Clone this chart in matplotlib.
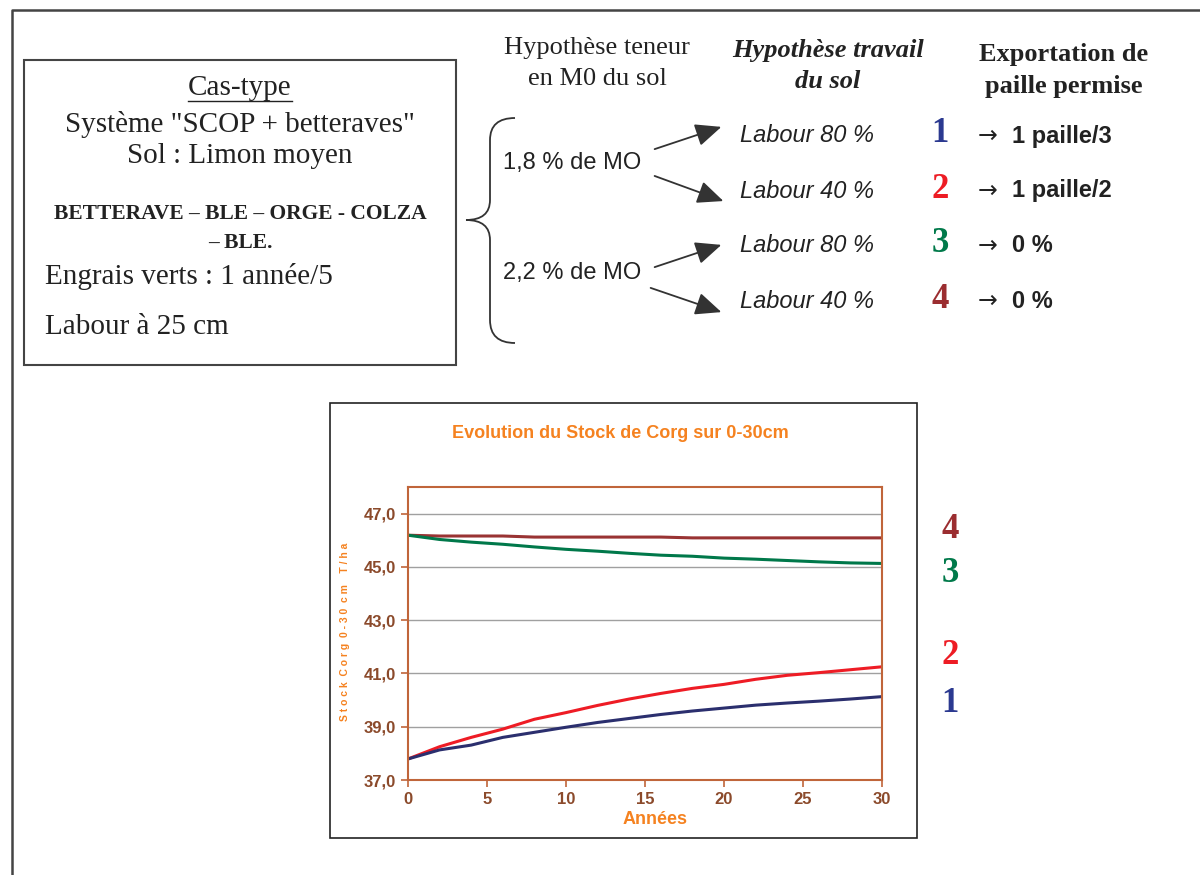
import numpy as np
import matplotlib
matplotlib.use('Agg')
import matplotlib.pyplot as plt
from matplotlib.path import Path
from matplotlib.patches import PathPatch, Rectangle

# ---- donnees du graphique ----
annees = [0, 2, 4, 6, 8, 10, 12, 14, 16, 18, 20, 22, 24, 26, 28, 30]
cas1 = [37.79, 38.13, 38.31, 38.60, 38.79, 38.98, 39.16, 39.31, 39.46, 39.59, 39.70, 39.81, 39.89, 39.96, 40.04, 40.13]
cas2 = [37.79, 38.25, 38.60, 38.91, 39.28, 39.53, 39.80, 40.04, 40.25, 40.44, 40.59, 40.78, 40.93, 41.03, 41.14, 41.25]
cas3 = [46.19, 46.03, 45.93, 45.85, 45.75, 45.66, 45.59, 45.51, 45.44, 45.40, 45.33, 45.29, 45.24, 45.19, 45.15, 45.13]
cas4 = [46.19, 46.16, 46.16, 46.16, 46.12, 46.12, 46.12, 46.12, 46.12, 46.09, 46.09, 46.09, 46.09, 46.09, 46.09, 46.09]
y_ticks = [37, 39, 41, 43, 45, 47]
x_ticks = [0, 5, 10, 15, 20, 25, 30]

c1, c2, c3, c4 = '#2b2f6e', '#ee1c25', '#00784a', '#993333'
num_cols = ['#2b3990', '#ed1c24', '#00794a', '#9b2d30']
orange = '#f58220'
brun = '#8b4a2b'

serif = ['Liberation Serif', 'DejaVu Serif']
sans = ['Liberation Sans', 'DejaVu Sans']

fig = plt.figure(figsize=(12, 8.75), dpi=100)

# axe de fond en pixels (y vers le bas)
bg = fig.add_axes([0, 0, 1, 1])
bg.set_xlim(0, 1200)
bg.set_ylim(875, 0)
bg.axis('off')

# cadre exterieur
bg.plot([12, 12, 1200], [875, 10, 10], color='#444444', lw=1.8)

# encadre cas-type
bg.add_patch(Rectangle((24, 60), 432, 305, fill=False, ec='#444444', lw=1.5))
bg.text(240, 88, 'Cas-type', family=serif, fontsize=21, ha='center', va='center', color='#222222')
bg.plot([188, 292], [101, 101], color='#222222', lw=1)
bg.text(240, 124, 'Système "SCOP + betteraves"', family=serif, fontsize=21, ha='center', va='center', color='#222222')
bg.text(240, 156, 'Sol : Limon moyen', family=serif, fontsize=21, ha='center', va='center', color='#222222')
bg.text(240, 214, 'BETTERAVE – BLE – ORGE - COLZA', family=serif, fontsize=15.5, weight='bold', ha='center', va='center', color='#222222')
bg.text(240, 243, '– BLE.', family=serif, fontsize=15.5, weight='bold', ha='center', va='center', color='#222222')
bg.text(45, 276, 'Engrais verts : 1 année/5', family=serif, fontsize=21, ha='left', va='center', color='#222222')
bg.text(45, 327, 'Labour à 25 cm', family=serif, fontsize=21, ha='left', va='center', color='#222222')

# accolade
verts = [(515, 118), (490, 118), (490, 140), (490, 200), (490, 220), (466, 220),
         (490, 220), (490, 240), (490, 320), (490, 343), (515, 343)]
codes = [Path.MOVETO, Path.CURVE3, Path.CURVE3, Path.LINETO, Path.CURVE3, Path.CURVE3,
         Path.CURVE3, Path.CURVE3, Path.LINETO, Path.CURVE3, Path.CURVE3]
bg.add_patch(PathPatch(Path(verts, codes), fill=False, ec='#333333', lw=1.3))

# en-tetes
bg.text(597, 48, 'Hypothèse teneur', family=serif, fontsize=19, ha='center', va='center', color='#222222')
bg.text(597, 79, 'en M0 du sol', family=serif, fontsize=19, ha='center', va='center', color='#222222')
bg.text(828, 50, 'Hypothèse travail', family=serif, fontsize=19, weight='bold', style='italic', ha='center', va='center', color='#222222')
bg.text(828, 82, 'du sol', family=serif, fontsize=19, weight='bold', style='italic', ha='center', va='center', color='#222222')
bg.text(1064, 54, 'Exportation de', family=serif, fontsize=19, weight='bold', ha='center', va='center', color='#222222')
bg.text(1064, 86, 'paille permise', family=serif, fontsize=19, weight='bold', ha='center', va='center', color='#222222')

bg.text(503, 163, '1,8 % de MO', family=sans, fontsize=17, ha='left', va='center', color='#222222')
bg.text(503, 273, '2,2 % de MO', family=sans, fontsize=17, ha='left', va='center', color='#222222')

fleches = [((652, 150), (724, 126)), ((652, 175), (726, 202)),
           ((652, 268), (724, 244)), ((648, 287), (724, 313))]
for (x0, y0), (x1, y1) in fleches:
    bg.annotate('', xy=(x1, y1), xytext=(x0, y0),
                arrowprops=dict(arrowstyle='-|>,head_length=1.6,head_width=0.7', color='#333333', lw=1.3))

ys = [136, 191, 246, 301]
labours = ['Labour 80 %', 'Labour 40 %', 'Labour 80 %', 'Labour 40 %']
exports = ['1 paille/3', '1 paille/2', '0 %', '0 %']
for i in range(4):
    bg.text(740, ys[i], labours[i], family=sans, fontsize=17, style='italic', ha='left', va='center', color='#222222')
    bg.text(940, ys[i] - 2, str(i + 1), family=serif, fontsize=25, weight='bold', ha='center', va='center', color=num_cols[i])
    bg.text(978, ys[i], '→', family=['DejaVu Sans'], fontsize=17, ha='left', va='center', color='#222222')
    bg.text(1012, ys[i], exports[i], family=sans, fontsize=17, weight='bold', ha='left', va='center', color='#222222')

# numeros a droite du graphique
bg.text(950, 530, '4', family=serif, fontsize=25, weight='bold', ha='center', va='center', color=num_cols[3])
bg.text(950, 574, '3', family=serif, fontsize=25, weight='bold', ha='center', va='center', color=num_cols[2])
bg.text(950, 655, '2', family=serif, fontsize=25, weight='bold', ha='center', va='center', color=num_cols[1])
bg.text(950, 703, '1', family=serif, fontsize=25, weight='bold', ha='center', va='center', color=num_cols[0])

# cadre du graphique
bg.add_patch(Rectangle((330, 403), 587, 435, fill=False, ec='#222222', lw=1.2))
bg.text(620, 433, 'Evolution du Stock de Corg sur 0-30cm', family=sans, fontsize=13, weight='bold',
        ha='center', va='center', color=orange)
bg.text(345, 632, 'S t o c k  C o r g  0 - 3 0  c m    T / h a', family=sans, fontsize=7.5, weight='bold',
        rotation=90, ha='center', va='center', color=orange)
bg.text(655, 820, 'Années', family=sans, fontsize=13, weight='bold', ha='center', va='center', color=orange)

# graphique
ax = fig.add_axes([408 / 1200, 1 - 780 / 875, 474 / 1200, 293 / 875])
ax.plot(annees, cas4, color=c4, lw=2.2)
ax.plot(annees, cas3, color=c3, lw=2.2)
ax.plot(annees, cas2, color=c2, lw=2.2)
ax.plot(annees, cas1, color=c1, lw=2.2)
ax.set_xlim(0, 30)
ax.set_ylim(37, 48)
ax.set_yticks(y_ticks)
ax.set_yticklabels([('%.1f' % v).replace('.', ',') for v in y_ticks])
ax.set_xticks(x_ticks)
ax.grid(axis='y', color='#a0a0a0', lw=1)
ax.set_axisbelow(True)
for s in ax.spines.values():
    s.set_color('#c0653a')
    s.set_linewidth(1.5)
ax.tick_params(colors='#c0653a', labelcolor=brun, length=5, width=1.2)
for lab in ax.get_xticklabels() + ax.get_yticklabels():
    lab.set_family(sans)
    lab.set_fontweight('bold')
    lab.set_fontsize(12)

plt.savefig('out.png', dpi=100)
